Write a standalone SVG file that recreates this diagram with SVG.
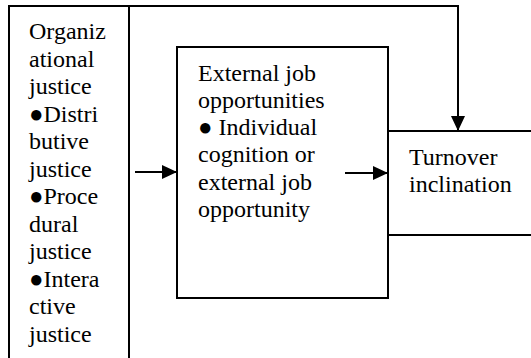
<svg xmlns="http://www.w3.org/2000/svg" width="531" height="358" viewBox="0 0 531 358">
<style>
.box{fill:none;stroke:#000;stroke-width:2}
.t{font-family:'Liberation Serif','Times New Roman',Times,serif;font-size:24px;fill:#000}
.c{fill:none;stroke:#000;stroke-width:2}
</style>
<defs>
<marker id="ah" markerUnits="userSpaceOnUse" markerWidth="15" markerHeight="14" refX="15" refY="7" orient="auto">
<path d="M0,0 L15,7 L0,14 z" fill="#000"/>
</marker>
</defs>
<rect width="531" height="358" fill="#fff"/>
<g id="org">
<path class="box" d="M9,360 V6 H129 V360"/>
<text class="t">
<tspan x="29" y="39">Organiz</tspan>
<tspan x="29" y="66.5">ational</tspan>
<tspan x="29" y="94">justice</tspan>
<tspan x="29" y="121.5">●Distri</tspan>
<tspan x="29" y="149">butive</tspan>
<tspan x="29" y="176.5">justice</tspan>
<tspan x="29" y="204">●Proce</tspan>
<tspan x="29" y="231.5">dural</tspan>
<tspan x="29" y="259">justice</tspan>
<tspan x="29" y="286.5">●Intera</tspan>
<tspan x="29" y="314">ctive</tspan>
<tspan x="29" y="341.5">justice</tspan>
</text>
</g>
<g id="ext">
<rect class="box" x="177" y="47" width="211" height="251"/>
<text class="t">
<tspan x="198" y="80.5">External job</tspan>
<tspan x="198" y="107.8">opportunities</tspan>
<tspan x="198" y="135.1">● Individual</tspan>
<tspan x="198" y="162.4">cognition or</tspan>
<tspan x="198" y="189.7">external job</tspan>
<tspan x="198" y="217">opportunity</tspan>
</text>
</g>
<g id="turn">
<path class="box" d="M540,131 H388 V235 H540"/>
<text class="t">
<tspan x="409" y="164.5">Turnover</tspan>
<tspan x="409" y="192.3">inclination</tspan>
</text>
</g>
<g id="connectors">
<path class="c" d="M135,172 H177" marker-end="url(#ah)"/>
<path class="c" d="M345,173 H388" marker-end="url(#ah)"/>
<path class="c" d="M129,6 H458 V131" marker-end="url(#ah)"/>
</g>
</svg>
